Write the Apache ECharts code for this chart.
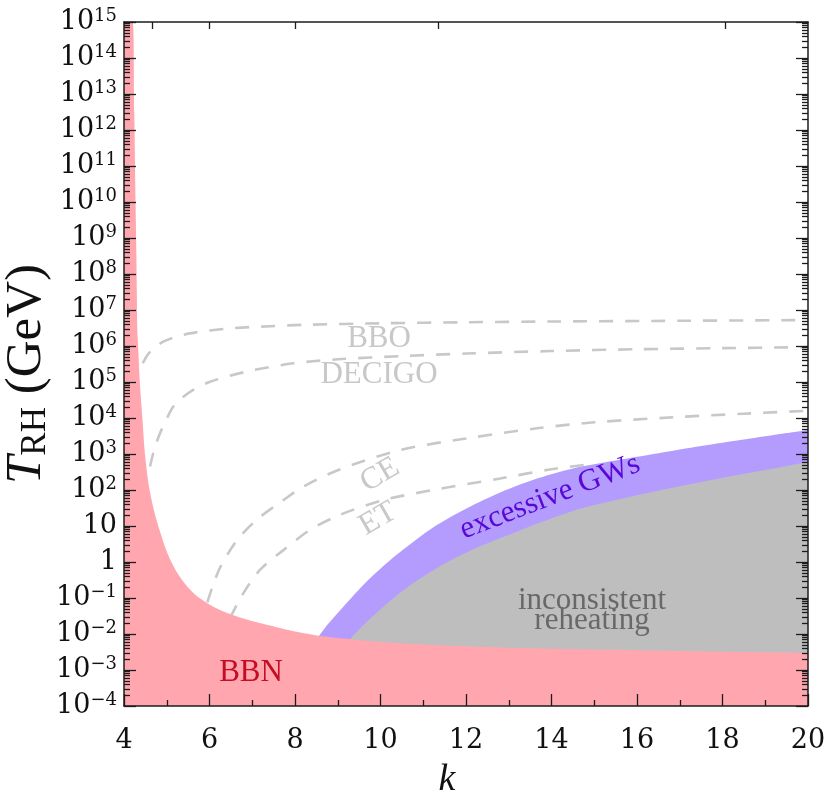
<!DOCTYPE html>
<html><head><meta charset="utf-8">
<script src="https://cdn.jsdelivr.net/npm/echarts@6/dist/echarts.min.js"></script>
<style>html,body{margin:0;padding:0;background:#fff}#c{width:827px;height:797px}</style>
</head><body><div id="c"></div>
<script>
// ---- values (k, log10 T_RH/GeV) ----
const kBBN   = [4.0, 4.2, 4.24, 4.27, 4.29, 4.30, 4.31, 4.33, 4.37, 4.43, 4.49, 4.57, 4.64, 4.73, 4.85, 4.96, 5.1, 5.27, 5.45, 5.62, 5.85, 6.09, 6.4, 6.79, 7.15, 7.57, 8.0, 8.51, 9.0, 9.5, 10.0, 11, 12, 13, 14, 16, 18, 20];
const logBBN = [15, 15, 12.5, 10, 8.5, 7.5, 6.5, 6, 5, 4, 3, 2.2, 1.75, 1.3, 0.82, 0.42, 0.02, -0.35, -0.64, -0.86, -1.07, -1.24, -1.41, -1.57, -1.69, -1.81, -1.93, -2.04, -2.11, -2.17, -2.22, -2.29, -2.34, -2.38, -2.41, -2.45, -2.49, -2.52];

const kGW    = [8.5, 8.7, 8.9, 9.3, 9.67, 10.06, 10.46, 11.23, 12.0, 12.8, 13.7, 14.5, 15.5, 16.5, 17.5, 18.5, 19.5, 20];
const logGW  = [-2.15, -1.83, -1.55, -1.02, -0.55, -0.12, 0.28, 0.96, 1.48, 1.93, 2.33, 2.6, 2.82, 3.02, 3.22, 3.4, 3.58, 3.67];

const kInc   = [9.25, 9.6, 10.06, 10.45, 10.85, 11.63, 12.4, 13.19, 13.7, 14.5, 15.5, 16.5, 17.5, 18.5, 19.5, 20];
const logInc = [-2.2, -1.75, -1.25, -0.86, -0.52, 0.04, 0.47, 0.84, 1.08, 1.42, 1.72, 1.98, 2.22, 2.45, 2.67, 2.78];

const kBBO   = [4.44, 4.55, 4.7, 4.92, 5.2, 5.54, 6.0, 6.6, 7.42, 8.27, 10, 12, 14, 17, 20];
const logBBO = [5.52, 5.75, 5.95, 6.12, 6.25, 6.35, 6.43, 6.5, 6.55, 6.59, 6.63, 6.66, 6.68, 6.7, 6.72];

const kDEC   = [4.61, 4.7, 4.84, 5.0, 5.15, 5.35, 5.62, 6.0, 6.5, 7.03, 7.96, 9, 10.5, 12, 14, 16, 18, 20];
const logDEC = [2.65, 3.1, 3.57, 3.98, 4.31, 4.55, 4.78, 5.0, 5.18, 5.33, 5.52, 5.63, 5.72, 5.79, 5.86, 5.91, 5.94, 5.97];

const kCE    = [5.95, 6.06, 6.25, 6.64, 7.1, 7.73, 8.19, 9.0, 10.46, 12, 13.7, 15, 16.85, 18.5, 20];
const logCE  = [-1.12, -0.72, -0.15, 0.6, 1.17, 1.72, 2.09, 2.55, 3.11, 3.43, 3.72, 3.88, 4.02, 4.12, 4.2];

const kET    = [6.48, 6.79, 7.18, 7.73, 8.35, 9.05, 10.07, 11.23, 12.8, 13.96, 15.0];
const logET  = [-1.56, -0.87, -0.22, 0.33, 0.89, 1.31, 1.72, 2.0, 2.32, 2.57, 2.73];

// ---- axis ticks ----
const xTicks = [4, 6, 8, 10, 12, 14, 16, 18, 20];
const xTopTicks = [4.67, 6.0, 8.0, 11.36, 18.07];
const yTickExponents = [-4, -3, -2, -1, 0, 1, 2, 3, 4, 5, 6, 7, 8, 9, 10, 11, 12, 13, 14, 15];
const yMinorMultipliers = [2, 3, 4, 5, 6, 7, 8, 9];

const EPS = 1e-9;
const yMajor = yTickExponents.map((e, i) => Math.pow(10, e) * (i === yTickExponents.length - 1 ? 1 - EPS : 1 + EPS));
const yMinor = [];
yTickExponents.slice(0, -1).forEach(e => yMinorMultipliers.forEach(m => yMinor.push(m * Math.pow(10, e))));

const toPts = (ks, ls) => ks.map((k, i) => [k, Math.pow(10, ls[i])]);

const FONT = 'Liberation Serif';
const TFONT = 'DejaVu Serif';
const AX = '#1c1c1c';

function fmtExp(v) {
  const e = Math.round(Math.log10(v));
  if (e === 0) return '{b|1}';
  if (e === 1) return '{b|10}';
  return '{b|10}{s|' + (e < 0 ? '\u2212' + (-e) : e) + '}';
}

const yBase = {
  type: 'log', logBase: 10, min: 1e-4, max: 1e15, z: 10,
  splitLine: { show: false }, axisLine: { show: false },
  axisLabel: { show: false }, axisTick: { show: false }
};
const tickLS = { color: AX, width: 1.3 };

const chart = echarts.init(document.getElementById('c'), null, { renderer: 'canvas' });

const dashed = (name, ks, ls) => ({
  name, type: 'line', data: toPts(ks, ls), smooth: 0.3, showSymbol: false, silent: true, z: 1,
  lineStyle: { color: '#c8c8c8', width: 2.6, type: [14, 12] }
});
const band = (name, ks, ls, color) => ({
  name, type: 'line', data: toPts(ks, ls), smooth: 0.3, showSymbol: false, silent: true, z: 2,
  lineStyle: { width: 0 }, areaStyle: { color, opacity: 1, origin: 'start' }
});

chart.setOption({
  animation: false,
  backgroundColor: '#fff',
  grid: { left: 124, right: 19, top: 22, bottom: 91, containLabel: false, outerBoundsMode: 'none' },
  xAxis: [
    {
      type: 'value', position: 'bottom', min: 4, max: 20, interval: 2, z: 10,
      splitLine: { show: false },
      axisLine: { show: true, onZero: false, lineStyle: { color: AX, width: 1.5 } },
      axisTick: { show: true, inside: true, length: 12, lineStyle: tickLS },
      minorTick: { show: true, splitNumber: 2, length: 6, lineStyle: tickLS },
      axisLabel: { show: true, margin: 20, fontFamily: TFONT, fontSize: 27, lineHeight: 30, color: '#111',
        customValues: xTicks, formatter: v => String(v) }
    },
    {
      type: 'value', position: 'top', min: 4, max: 20, z: 10,
      splitLine: { show: false },
      axisLine: { show: true, onZero: false, lineStyle: { color: AX, width: 1.5 } },
      axisTick: { show: true, inside: true, length: 7, customValues: xTopTicks, lineStyle: tickLS },
      axisLabel: { show: false }
    }
  ],
  yAxis: [
    Object.assign({}, yBase, {
      position: 'left',
      axisLine: { show: true, lineStyle: { color: AX, width: 1.5 } },
      axisTick: { show: true, inside: true, length: 12, customValues: yMajor, lineStyle: tickLS },
      axisLabel: { show: true, customValues: yMajor, margin: 7, formatter: fmtExp,
        rich: {
          b: { fontFamily: TFONT, fontSize: 27, lineHeight: 30, color: '#111' },
          s: { fontFamily: TFONT, fontSize: 18, lineHeight: 13, verticalAlign: 'top', color: '#111' }
        } }
    }),
    Object.assign({}, yBase, {
      position: 'left',
      axisTick: { show: true, inside: true, length: 6, customValues: yMinor, lineStyle: tickLS }
    }),
    Object.assign({}, yBase, {
      position: 'right',
      axisLine: { show: true, lineStyle: { color: AX, width: 1.5 } },
      axisTick: { show: true, inside: true, length: 12, customValues: yMajor, lineStyle: tickLS }
    }),
    Object.assign({}, yBase, {
      position: 'right',
      axisTick: { show: true, inside: true, length: 6, customValues: yMinor, lineStyle: tickLS }
    })
  ],
  series: [
    dashed('BBO', kBBO, logBBO),
    dashed('DECIGO', kDEC, logDEC),
    dashed('CE', kCE, logCE),
    dashed('ET', kET, logET),
    band('excessive GWs', kGW, logGW, '#b49cff'),
    band('inconsistent reheating', kInc, logInc, '#bebebe'),
    band('BBN', kBBN, logBBN, '#ffa6ae')
  ],
  graphic: [
    { type: 'text', x: 27, y: 374, rotation: Math.PI / 2, z: 100,
      style: { text: '{t|T}{s|RH}{n| (GeV)}', align: 'center', verticalAlign: 'middle',
        rich: {
          t: { fontFamily: FONT, fontStyle: 'italic', fontSize: 51, lineHeight: 52, fill: '#111' },
          s: { fontFamily: FONT, fontSize: 35, lineHeight: 30, verticalAlign: 'bottom', fill: '#111' },
          n: { fontFamily: FONT, fontSize: 51, lineHeight: 52, fill: '#111' }
        } } },
    { type: 'text', x: 447, y: 780, z: 100,
      style: { text: 'k', fontFamily: FONT, fontStyle: 'italic', fontSize: 38, fill: '#111', align: 'center', verticalAlign: 'middle' } },
    { type: 'text', x: 379, y: 339, z: 100,
      style: { text: 'BBO', fontFamily: FONT, fontSize: 31, fill: '#c8c8c8', align: 'center', verticalAlign: 'middle' } },
    { type: 'text', x: 379, y: 375, z: 100,
      style: { text: 'DECIGO', fontFamily: FONT, fontSize: 31, fill: '#c8c8c8', align: 'center', verticalAlign: 'middle' } },
    { type: 'text', x: 380, y: 475, rotation: 30 * Math.PI / 180, z: 100,
      style: { text: 'CE', fontFamily: FONT, fontSize: 31, fill: '#c8c8c8', align: 'center', verticalAlign: 'middle' } },
    { type: 'text', x: 378, y: 519, rotation: 30 * Math.PI / 180, z: 100,
      style: { text: 'ET', fontFamily: FONT, fontSize: 31, fill: '#c8c8c8', align: 'center', verticalAlign: 'middle' } },
    { type: 'text', x: 550, y: 497, rotation: 21 * Math.PI / 180, z: 100,
      style: { text: 'excessive GWs', fontFamily: FONT, fontSize: 31, fill: '#5a08d8', align: 'center', verticalAlign: 'middle' } },
    { type: 'text', x: 592, y: 611, z: 100,
      style: { text: 'inconsistent\nreheating', fontFamily: FONT, fontSize: 31, lineHeight: 20, fill: '#686868', align: 'center', verticalAlign: 'middle' } },
    { type: 'text', x: 251, y: 673, z: 100,
      style: { text: 'BBN', fontFamily: FONT, fontSize: 31, fill: '#c40d25', align: 'center', verticalAlign: 'middle' } }
  ]
});
</script>
</body></html>
